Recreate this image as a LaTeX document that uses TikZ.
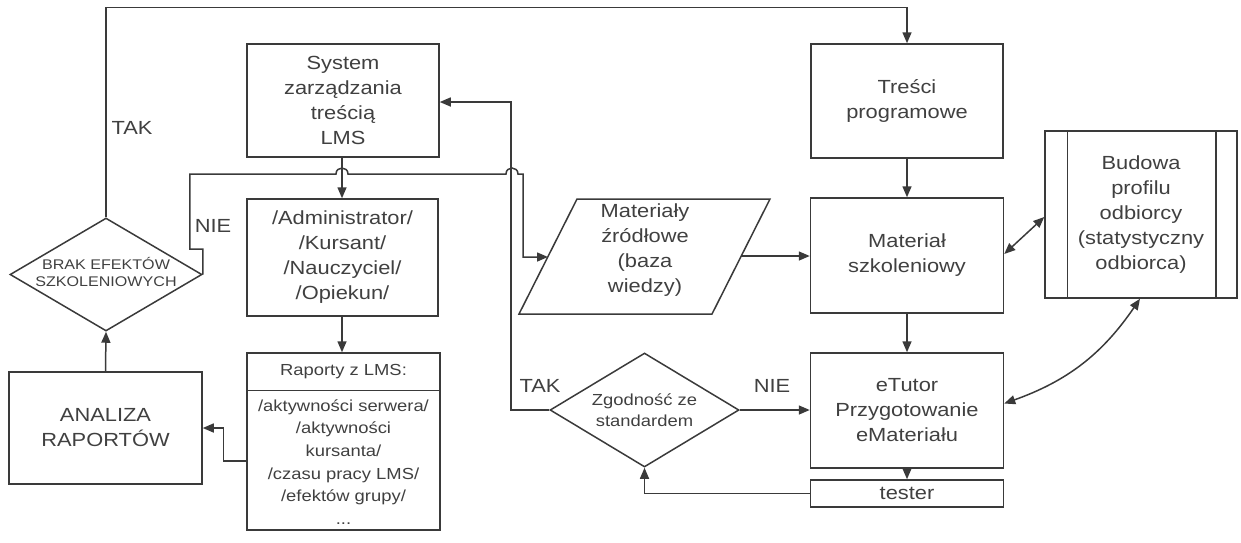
\documentclass[tikz,border=0pt]{standalone}
\usepackage{fontspec}
\setmainfont{Liberation Sans}[FakeStretch=1.15]
\usetikzlibrary{arrows.meta,calc,shapes.geometric}

\definecolor{ink}{HTML}{3A3A3A}
\definecolor{txt}{HTML}{404040}

\begin{document}
\begin{tikzpicture}[x=1pt,y=-1pt,
  line/.style={draw=ink, line width=1.5pt},
  arr/.style={line, -{Triangle[length=11pt,width=9pt]}},
  darr/.style={line, {Triangle[length=11pt,width=9pt]}-{Triangle[length=11pt,width=9pt]}},
  box/.style={line, rectangle, inner sep=0pt, align=center, text=txt,
              font=\fontsize{19}{25}\selectfont},
  dia/.style={line, diamond, inner sep=0pt},
  lbl/.style={text=txt, inner sep=0pt, align=center, font=\fontsize{19}{25}\selectfont}]

\useasboundingbox (0,0) rectangle (1241,542);

% --- boxes ---
\node[box, minimum width=192pt, minimum height=113pt] (lms) at (343,100.5)
  {System\\zarządzania\\treścią\\LMS};
\node[box, minimum width=192pt, minimum height=114pt] (tresci) at (907,101)
  {Treści\\programowe};
\node[box, minimum width=192pt, minimum height=167pt] (budowa) at (1141,214.5)
  {Budowa\\profilu\\odbiorcy\\(statystyczny\\odbiorca)};
\draw[line] ([xshift=23pt]budowa.north west) -- ([xshift=23pt]budowa.south west);
\draw[line] ([xshift=-22pt]budowa.north east) -- ([xshift=-22pt]budowa.south east);
\node[box, minimum width=193pt, minimum height=115pt] (mat) at (907,255.5)
  {Materiał\\szkoleniowy};
\node[box, minimum width=193pt, minimum height=115pt] (etutor) at (907,410.5)
  {eTutor\\Przygotowanie\\eMateriału};
\node[box, minimum width=193pt, minimum height=27pt] (tester) at (907,493.5)
  {tester};
\node[box, minimum width=191pt, minimum height=117pt] (admin) at (342.5,257.5)
  {/Administrator/\\/Kursant/\\/Nauczyciel/\\/Opiekun/};
\node[box, minimum width=193pt, minimum height=177pt] (raporty) at (343.5,441.5) {};
\draw[line] ([yshift=-38pt]raporty.north west) -- ([yshift=-38pt]raporty.north east);
\node[lbl, font=\fontsize{16}{22}\selectfont] (raphead) at (343.5,372) {Raporty z LMS:};
\node[lbl, font=\fontsize{16}{22.7}\selectfont] (rapbody) at (343.5,462)
  {/aktywności serwera/\\/aktywności\\kursanta/\\/czasu pracy LMS/\\/efektów grupy/\\...};
\node[box, minimum width=193pt, minimum height=112pt] (analiza) at (105.5,428)
  {ANALIZA\\RAPORTÓW};

% --- decisions ---
\node[dia, minimum width=192pt, minimum height=113pt] (brak) at (106,274.5) {};
\node[lbl, font=\fontsize{14}{17}\selectfont] (braktxt) at (106,272)
  {BRAK EFEKTÓW\\SZKOLENIOWYCH};
\node[dia, minimum width=189pt, minimum height=114pt] (zgod) at (644.5,410) {};
\node[lbl, font=\fontsize{16}{21}\selectfont] (zgodtxt) at (644.5,410.5)
  {Zgodność ze\\standardem};

% --- source data (parallelogram) ---
\coordinate (srcTL) at (577,199);
\coordinate (srcTR) at (770,199);
\coordinate (srcBR) at (712,314);
\coordinate (srcBL) at (519,314);
\draw[line] (srcTL) -- (srcTR) -- (srcBR) -- (srcBL) -- cycle;
\node[lbl] (src) at (645,250) {Materiały\\źródłowe\\(baza\\wiedzy)};
\coordinate (srcL) at (548,257);
\coordinate (srcR) at (741,256);

% --- connectors ---
\draw[arr] (brak.north) -- ++(0,-210) -| (tresci.north);
\node[lbl] (tak1) at (132,128) {TAK};

\draw[arr] (brak.east) -- ++(0,-25.5) -- ++(-13,0) |- (336,174)
  .. controls (336,166) and (348,166) .. (348,174) -- (506,174)
  .. controls (506,166) and (518,166) .. (518,174) -- (523,174)
  -- (523,257) -- (srcL);
\node[lbl] (nie1) at (213,226) {NIE};

\draw[arr] (lms.south -| 342,0) -- (admin.north -| 342,0);
\draw[arr] (admin.south -| 342,0) -- (raporty.north -| 342,0);
\draw[arr] ([yshift=-19.5pt]raporty.west) -- ++(-23,0) |- (analiza.east);
\draw[arr] (analiza.north) -- (brak.south);

\draw[arr] (zgod.west) -- ++(-38.5,0) |- ([yshift=-1.5pt]lms.east);
\node[lbl] (tak2) at (540,386) {TAK};
\draw[arr] (zgod.east) -- (etutor.west |- zgod.east);
\node[lbl] (nie2) at (772,386) {NIE};
\draw[arr] (tester.west) -| (zgod.south);

\draw[arr] (srcR) -- (mat.west |- srcR);
\draw[arr] (tresci.south) -- (mat.north);
\draw[arr] (mat.south) -- (etutor.north);
\draw[arr] (etutor.south) -- (tester.north);

\draw[darr] ([yshift=1.5pt]mat.east) -- ([yshift=-2.5pt]budowa.west);
\draw[darr] ([yshift=7pt]etutor.east) to[bend right=18] ([xshift=-1pt]budowa.south);
\end{tikzpicture}
\end{document}
